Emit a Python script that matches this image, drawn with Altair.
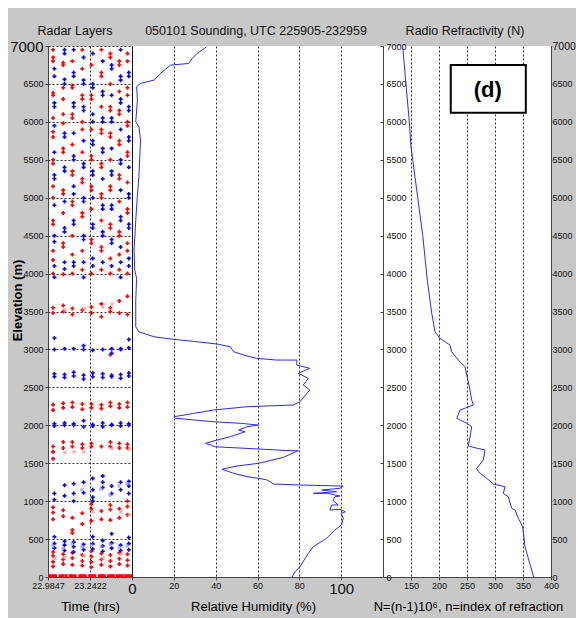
import altair as alt
import pandas as pd

FONT = "Liberation Sans"
NARROW = "Liberation Sans"

# ---------------- data ----------------
COL_TIMES = [23.020, 23.082, 23.138, 23.199, 23.255, 23.316, 23.371, 23.426, 23.476]

RED_HEIGHTS = [
    [140, 200, 280, 330, 760, 850, 920, 1560, 1650, 1720, 2200, 2270, 3480, 3550,
     4000, 4180, 4300, 4650, 4700, 5000, 5150, 5450, 5500, 5800, 5870, 6050, 6350, 6380, 6800, 6850, 6950],
    [170, 230, 300, 800, 880, 1700, 1780, 2230, 2290, 3500, 3580,
     3990, 4350, 4400, 4800, 5050, 5100, 5600, 5650, 5980, 6100, 6300, 6450, 6750, 6780],
    [160, 250, 320, 580, 620, 780, 1720, 1780, 2240, 2300, 3460, 3540,
     4000, 4250, 4500, 4900, 4950, 5300, 5350, 5700, 6050, 6100, 6450, 6480, 6800],
    [150, 210, 290, 700, 840, 1700, 1750, 2210, 2280, 3520,
     4050, 4300, 4750, 4800, 5200, 5250, 5600, 5900, 6000, 6300, 6350, 6700, 6950],
    [130, 200, 270, 340, 740, 900, 960, 1720, 1760, 2230, 2280, 3480, 3560,
     4000, 4400, 4450, 4850, 5100, 5150, 5500, 5550, 5900, 6300, 6350, 6750],
    [160, 230, 310, 760, 870, 1720, 2220, 2270, 3430, 3600,
     4050, 4300, 4350, 4700, 5000, 5050, 5400, 5450, 5850, 5900, 6200, 6600, 6650, 6950],
    [140, 210, 290, 750, 890, 950, 1720, 1780, 2250, 2300, 2930, 3500, 3550,
     4000, 4200, 4600, 4650, 5100, 5150, 5500, 5800, 5850, 6150, 6200, 6500, 6850, 6900],
    [170, 240, 320, 780, 900, 1700, 1760, 2230, 2280, 3480, 3640,
     4050, 4250, 4500, 4550, 4950, 5250, 5300, 5700, 5750, 6100, 6150, 6400, 6750, 6800],
    [150, 220, 300, 820, 930, 1000, 1700, 1750, 2240, 2300, 3460, 3700,
     4000, 4300, 4400, 4800, 4850, 5200, 5550, 5600, 5950, 6000, 6350, 6450, 6800, 6900],
]

BLUE_HEIGHTS = [
    [380, 440, 530, 1020, 1100, 1990, 2020, 2640, 2680, 3000, 3150,
     3950, 4100, 4420, 4500, 4900, 5250, 5300, 5600, 5950, 6200, 6250, 6600, 6700],
    [350, 420, 470, 1070, 1210, 2000, 2030, 2630, 2670, 3010,
     4060, 4150, 4550, 4600, 4950, 5350, 5400, 5800, 5850, 6500, 6560, 6900, 6950],
    [330, 400, 460, 1000, 1100, 1230, 2000, 2020, 2650, 2700, 3010,
     4100, 4150, 4650, 4700, 5050, 5150, 5500, 5550, 5850, 6200, 6250, 6600, 6650, 6950],
    [360, 430, 1110, 1250, 1980, 2060, 2610, 2660, 3000, 3050,
     3950, 4150, 4450, 4500, 4950, 5000, 5400, 5450, 5750, 6150, 6200, 6500, 6550, 6850],
    [370, 440, 530, 1000, 1050, 1150, 1300, 1990, 2010, 2640, 2690, 2990,
     4100, 4200, 4600, 4650, 5000, 5300, 5350, 5700, 5750, 6000, 6100, 6450, 6500, 6900],
    [340, 410, 480, 1180, 1250, 1330, 1980, 2030, 2630, 2680, 3000,
     4150, 4500, 4550, 4850, 4900, 5250, 5600, 5650, 6000, 6050, 6350, 6400, 6800],
    [380, 450, 570, 1100, 1200, 2000, 2010, 2640, 2660, 2950, 3010,
     4100, 4400, 4450, 4850, 4900, 5300, 5350, 5650, 6000, 6050, 6350, 6700, 6750],
    [350, 420, 1150, 1250, 1990, 2030, 2620, 2670, 3000, 3010,
     3950, 4150, 4350, 4700, 4750, 5100, 5450, 5500, 5900, 6250, 6300, 6550, 6600, 6950],
    [360, 440, 520, 1100, 1200, 1260, 2000, 2020, 2650, 2690, 3020, 3130,
     4100, 4200, 4600, 4650, 5000, 5050, 5400, 5750, 5800, 6150, 6200, 6600, 6650],
]

PINK_X_HEIGHTS = [[240], [260, 1640, 3520], [1650], [280, 1650, 3540], [860],
                  [250, 3560], [1690, 3600], [300, 860], [820, 1680]]
LIGHTBLUE_X_HEIGHTS = [[410], [380], [440], [400, 1150], [420],
                       [400, 1160], [430, 1080], [390, 1200], [410, 1230]]

SURFACE_TIMES = [22.998, 23.012, 23.030, 23.060, 23.075, 23.095, 23.120, 23.133, 23.150,
                 23.180, 23.195, 23.212, 23.240, 23.255, 23.270, 23.300, 23.315, 23.330,
                 23.355, 23.370, 23.385, 23.410, 23.425, 23.440, 23.462, 23.478, 23.492]

RH_ELEV = [0, 70, 136, 312, 400, 510, 620, 685, 773, 840, 860, 892, 883, 949, 949, 1006,
           1058, 1067, 1103, 1103, 1124, 1147, 1169, 1199, 1213, 1226, 1256, 1279, 1301,
           1322, 1367, 1420, 1463, 1499, 1578, 1665, 1665, 1717, 1740, 1762, 1806, 1849,
           1915, 1937, 1981, 2003, 2026, 2047, 2092, 2113, 2157, 2201, 2245, 2267, 2311,
           2465, 2531, 2619, 2685, 2751, 2794, 2860, 2860, 2882, 2913, 2970, 3035, 3071,
           3101, 3133, 3167, 3233, 3299, 3651, 3937, 4046, 4310, 4700, 5000, 5276, 5760,
           5935, 6001, 6287, 6462, 6507, 6550, 6660, 6748, 6770, 6836, 6902, 6946, 6990]
RH_VALUES = [76.5, 78, 80.3, 84.3, 86.7, 93, 97, 100.2, 101, 100, 102, 99.4, 94.6, 95.4, 98.6, 96.2,
             97, 99.4, 93.7, 86.7, 97.8, 90.7, 99.4, 101, 79.5, 67.6, 66, 64.5, 60.5,
             55, 48.6, 43, 50.2, 60.5, 72.4, 79.5, 75.6, 39.9, 37.5, 35.1, 40.7, 47,
             54.1, 51, 55, 60.5, 51.8, 39, 20.8, 20, 29.5, 39, 55, 77.1, 80.3,
             85, 81.9, 84.3, 79.5, 85, 78.8, 78.8, 69.2, 59.7, 55, 48.6, 47, 40.7,
             31.1, 20, 10.5, 3.3, 1.8, 1.8, 2.2, 1.3, 1.0, 1.8, 2.5, 3.3, 4.1,
             3.3, 1.8, 2.6, 2.2, 4.1, 10.5, 14.5, 18.4, 27.1, 28.8, 31.1, 33.5, 35.6]

N_ELEV = [0, 13, 246, 400, 663, 773, 883, 905, 1058, 1103, 1190, 1226, 1301, 1388, 1433,
          1542, 1674, 1704, 1727, 1849, 1981, 2026, 2092, 2201, 2267, 2333, 2508, 2772,
          2860, 2970, 3058, 3146, 3233, 3476, 3914, 4500, 5000, 5672, 6000, 6500, 6990]
N_VALUES = [370, 368.5, 359.5, 353.6, 349.4, 341.7, 335.7, 329.8, 323.8, 314.9, 317.9, 297,
            285.2, 270.2, 267.3, 279.1, 282.1, 264.3, 252.3, 255.4, 258.4, 249.5, 231.6,
            237.5, 261.3, 258.4, 254.2, 246.4, 234.5, 222.6, 219.6, 201.8, 192.9, 187,
            179.1, 171, 162, 150, 147, 141, 135.2]

ELEV_TICKS = list(range(0, 7001, 500))
TIME_TICKS = [22.9847, 23.2422]
RH_TICKS = [0, 20, 40, 60, 80, 100]
N_TICKS = [150, 200, 250, 300, 350, 400]

# ---------------- tables ----------------
rows = []
for ci, t in enumerate(COL_TIMES):
    for h in RED_HEIGHTS[ci]:
        rows.append({"time": t - 0.004, "elev": h, "kind": "red"})
    for h in BLUE_HEIGHTS[ci]:
        rows.append({"time": t + 0.004, "elev": h, "kind": "blue"})
radar = pd.DataFrame(rows)

xrows = []
for ci, t in enumerate(COL_TIMES):
    for h in PINK_X_HEIGHTS[ci]:
        xrows.append({"time": t + 0.006, "elev": h, "kind": "pink"})
    for h in LIGHTBLUE_X_HEIGHTS[ci]:
        xrows.append({"time": t - 0.006, "elev": h, "kind": "lightblue"})
radar_x = pd.DataFrame(xrows)

surface = pd.DataFrame({"time": SURFACE_TIMES, "elev": [15] * len(SURFACE_TIMES)})
rh = pd.DataFrame({"rh": RH_VALUES, "elev": RH_ELEV, "i": range(len(RH_VALUES))})
nn = pd.DataFrame({"n": N_VALUES, "elev": N_ELEV, "i": range(len(N_VALUES))})
box = pd.DataFrame({"n1": [221], "n2": [355], "e1": [6121], "e2": [6750]})
label_d = pd.DataFrame({"n": [287], "elev": [6420], "t": ["(d)"]})

# ---------------- scales ----------------
Y_SCALE = alt.Scale(domain=[0, 7000], nice=False, zero=False)
TIME_SCALE = alt.Scale(domain=[22.9847, 23.4997], range=[0, 84], nice=False, zero=False)
RH_SCALE = alt.Scale(domain=[0, 120], range=[84, 335], nice=False, zero=False)
N_SCALE = alt.Scale(domain=[100, 400], range=[335, 503], nice=False, zero=False)

COLOR = alt.Color("kind:N", legend=None,
                  scale=alt.Scale(domain=["red", "blue", "pink", "lightblue"],
                                  range=["#ff0000", "#0000ff", "#ff8c8c", "#8c8cff"]))

big7000_left = {"condition": {"test": "datum.value == 7000", "value": 15}, "value": 9}
big7000_right = {"condition": {"test": "datum.value == 7000", "value": 10.5}, "value": 9}
big0_100 = {"condition": {"test": "datum.value == 0 || datum.value == 100", "value": 15}, "value": 9}

common_axis = dict(labelFont=NARROW, labelColor="#111", domainColor="#444", tickColor="#444",
                   gridColor="#333", gridDash=[2, 2], gridOpacity=1,
                   labelFlush=False, labelOverlap=False, labelBound=False)

TITLE_Y = 29

# ---------------- layers ----------------
radar_layer = alt.Chart(radar).mark_point(shape="cross", filled=True, size=16, opacity=1).encode(
    x=alt.X("time:Q", scale=TIME_SCALE,
            axis=alt.Axis(values=TIME_TICKS, orient="bottom", format=".4f", grid=True,
                          tickSize=3, labelFontSize=9, labelPadding=1, title="Time (hrs)",
                          titleFont=FONT, titleFontSize=13, titleFontWeight="normal", titleX=42,
                          titleY=TITLE_Y, titleBaseline="middle", **common_axis)),
    y=alt.Y("elev:Q", scale=Y_SCALE,
            axis=alt.Axis(values=ELEV_TICKS, orient="left", format="d", grid=True, tickSize=3,
                          labelFontSize=big7000_left, labelPadding=2, title="Elevation (m)",
                          titleFont=FONT, titleFontSize=13, titleFontWeight="bold", titleX=-31,
                          titleY=254, titleAlign="center", titleBaseline="middle", **common_axis)),
    color=COLOR,
)

radar_x_layer = alt.Chart(radar_x).mark_point(shape="cross", filled=True, size=16, angle=45).encode(
    x=alt.X("time:Q", scale=TIME_SCALE, axis=None),
    y=alt.Y("elev:Q", scale=Y_SCALE, axis=None),
    color=COLOR,
)

surface_layer = alt.Chart(surface).mark_square(size=10, color="#ff0000", opacity=1).encode(
    x=alt.X("time:Q", scale=TIME_SCALE, axis=None),
    y=alt.Y("elev:Q", scale=Y_SCALE, axis=None),
)

rh_layer = alt.Chart(rh).mark_line(color="#2a2aff", strokeWidth=1).encode(
    x=alt.X("rh:Q", scale=RH_SCALE,
            axis=alt.Axis(values=RH_TICKS, orient="bottom", format="d", grid=True, tickSize=3,
                          labelFontSize=big0_100, labelPadding=1, title="Relative Humidity (%)",
                          titleFont=FONT, titleFontSize=13, titleFontWeight="normal", titleX=205,
                          titleY=TITLE_Y, titleBaseline="middle", **common_axis)),
    y=alt.Y("elev:Q", scale=Y_SCALE,
            axis=alt.Axis(orient="left", offset=-84, labels=False, ticks=False, grid=False,
                          title=None, domainColor="#111")),
    order="i:Q",
)

n_layer = alt.Chart(nn).mark_line(color="#2a2aff", strokeWidth=1).encode(
    x=alt.X("n:Q", scale=N_SCALE,
            axis=alt.Axis(values=N_TICKS, orient="bottom", format="d", grid=True, tickSize=3,
                          labelFontSize=9, labelPadding=1,
                          title="N=(n-1)10⁶, n=index of refraction", titleFont=FONT,
                          titleFontSize=13, titleFontWeight="normal", titleX=420,
                          titleY=TITLE_Y, titleBaseline="middle", **common_axis)),
    y=alt.Y("elev:Q", scale=Y_SCALE,
            axis=alt.Axis(values=ELEV_TICKS, orient="left", offset=-335, format="d", grid=False,
                          tickSize=3, labelAlign="left", labelPadding=-6, labelFontSize=9,
                          title=None, **common_axis)),
    order="i:Q",
)

box_layer = alt.Chart(box).mark_rect(fill="white", stroke="black", strokeWidth=2).encode(
    x=alt.X("n1:Q", scale=N_SCALE, axis=None),
    x2="n2:Q",
    y=alt.Y("e1:Q", scale=Y_SCALE,
            axis=alt.Axis(values=ELEV_TICKS, orient="right", format="d", grid=False, tickSize=1,
                          labelFontSize=big7000_right, labelPadding=0, title=None, **common_axis)),
    y2="e2:Q",
)

d_layer = alt.Chart(label_d).mark_text(font=FONT, fontSize=22, fontWeight="bold", color="black").encode(
    x=alt.X("n:Q", scale=N_SCALE, axis=None),
    y=alt.Y("elev:Q", scale=Y_SCALE, axis=None),
    text="t:N",
)

def title_text(txt, px):
    return alt.Chart(pd.DataFrame({"t": [txt]})).mark_text(
        font=FONT, fontSize=12.5, color="#111", baseline="middle", align="center"
    ).encode(x=alt.value(px), y=alt.value(-15), text="t:N")

titles = [
    title_text("Radar Layers", 27),
    title_text("050101 Sounding, UTC 225905-232959", 208),
    title_text("Radio Refractivity (N)", 417),
]

chart = alt.layer(
    radar_layer, radar_x_layer, surface_layer, rh_layer, n_layer, box_layer, d_layer, *titles
).resolve_scale(x="independent").resolve_axis(x="independent", y="independent").properties(
    width=503, height=531,
    autosize=alt.AutoSizeParams(type="none"),
    padding={"left": 40, "top": 38, "right": 25, "bottom": 41},
    background="#c8c8c8",
).configure_view(fill="white", stroke=None)

chart.save("out.html", embed_options={"renderer": "svg", "actions": False})
